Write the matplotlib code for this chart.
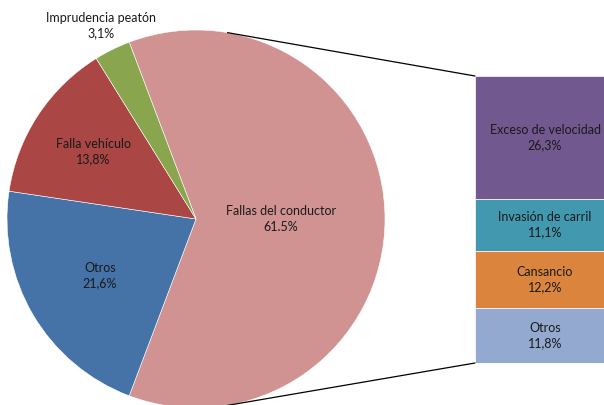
import numpy as np
import matplotlib.pyplot as plt
from matplotlib.patches import ConnectionPatch

plt.rcParams['font.family'] = ['Lato', 'DejaVu Sans']

# pie data (clockwise from the split slice)
pie_names = ['Fallas del conductor', 'Otros', 'Falla vehículo', 'Imprudencia peatón']
pie_vals = [61.5, 21.6, 13.8, 3.1]
pie_texts = ['61.5%', '21,6%', '13,8%', '3,1%']
pie_colors = ['#D19392', '#4572A7', '#AA4643', '#89A54E']

# breakdown of "Fallas del conductor" (top to bottom)
bar_names = ['Exceso de velocidad', 'Invasión de carril', 'Cansancio', 'Otros']
bar_vals = [26.3, 11.1, 12.2, 11.8]
bar_texts = ['26,3%', '11,1%', '12,2%', '11,8%']
bar_colors = ['#71588F', '#4198AF', '#DB843D', '#93A9CF']

W, H = 604, 405
fig = plt.figure(figsize=(W / 100, H / 100), dpi=100)
ax = fig.add_axes([0, 0, 1, 1])
ax.set_xlim(0, W)
ax.set_ylim(0, H)
ax.set_aspect('equal')
ax.axis('off')

cx, cy, r = 196, 186, 189
start = pie_vals[0] / 100 * 360 / 2
wedges, _ = ax.pie(pie_vals, colors=pie_colors, startangle=start, counterclock=False,
                   center=(cx, cy), radius=r, frame=True,
                   wedgeprops=dict(edgecolor='white', linewidth=0.4))
ax.set_xlim(0, W)
ax.set_ylim(0, H)
ax.axis('off')

label_dist = [0.45, 0.59, 0.65, 1.14]
for w, name, txt, d in zip(wedges, pie_names, pie_texts, label_dist):
    mid = np.deg2rad((w.theta1 + w.theta2) / 2)
    ax.text(cx + d * r * np.cos(mid), cy + d * r * np.sin(mid), name + '\n' + txt,
            ha='center', va='center', fontsize=9, color='#1a1a1a', linespacing=1.35)

# stacked bar
bx = fig.add_axes([475 / W, 42 / H, 140 / W, 287 / H])
total = sum(bar_vals)
bx.set_xlim(0, 1)
bx.set_ylim(0, total)
bx.axis('off')
top = total
for name, v, txt, c in zip(bar_names, bar_vals, bar_texts, bar_colors):
    bx.bar(0.5, v, bottom=top - v, width=1.0, color=c, edgecolor='white', linewidth=0.5)
    bx.text(0.5, top - v / 2, name + '\n' + txt, ha='center', va='center',
            fontsize=9, color='#1a1a1a', linespacing=1.35)
    top -= v

# connector lines
ang = np.deg2rad(80.4)
for sgn, yb in [(1, total), (-1, 0)]:
    con = ConnectionPatch(xyA=(cx + r * np.cos(ang), cy + sgn * r * np.sin(ang)), coordsA=ax.transData,
                          xyB=(0, yb), coordsB=bx.transData, color='black', linewidth=0.9)
    fig.add_artist(con)

fig.savefig('out.png', dpi=100, facecolor='white')
